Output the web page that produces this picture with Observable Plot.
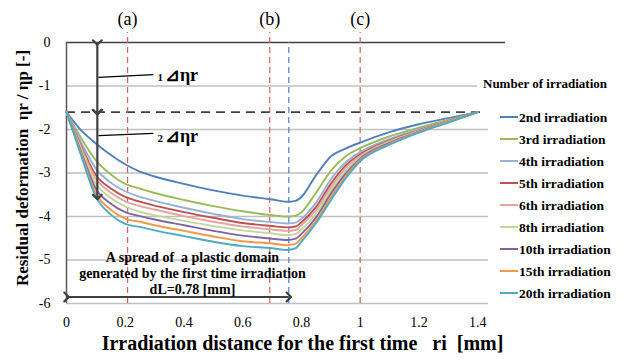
<!DOCTYPE html>
<html><head><meta charset="utf-8">
<script src="https://cdn.jsdelivr.net/npm/d3@7"></script>
<script src="https://cdn.jsdelivr.net/npm/@observablehq/plot@0.6"></script>
<style>body{margin:0;background:#fff} #chart{position:relative;width:623px;height:361px}</style>
</head><body><div id="chart"></div>
<script>
// ---- data ----
const xValues = [0, 0.05, 0.1, 0.15, 0.2, 0.25, 0.3, 0.4, 0.5, 0.6, 0.7, 0.75, 0.78, 0.8, 0.85, 0.9, 0.95, 1.0, 1.1, 1.2, 1.3, 1.4];
const seriesNames = ["2nd irradiation","3rd irradiation","4th irradiation","5th irradiation","6th irradiation","8th irradiation","10th irradiation","15th irradiation","20th irradiation"];
const seriesColors = ["#4f81bd","#9bbb59","#95b3d7","#c0504d","#e6a3a1","#c3d69b","#8064a2","#f79646","#4bacc6"];
const ir2  = [-1.6,-2.02,-2.32,-2.58,-2.80,-2.97,-3.08,-3.25,-3.40,-3.52,-3.61,-3.66,-3.64,-3.55,-3.05,-2.62,-2.44,-2.30,-2.06,-1.88,-1.74,-1.6];
const ir3  = [-1.6,-2.20,-2.71,-3.03,-3.25,-3.36,-3.46,-3.62,-3.76,-3.88,-3.97,-4.00,-3.98,-3.90,-3.45,-2.95,-2.62,-2.43,-2.16,-1.96,-1.78,-1.6];
const ir4  = [-1.6,-2.30,-2.90,-3.22,-3.42,-3.55,-3.64,-3.80,-3.94,-4.06,-4.13,-4.16,-4.14,-4.05,-3.68,-3.15,-2.76,-2.52,-2.22,-2.00,-1.80,-1.6];
const ir5  = [-1.6,-2.38,-3.05,-3.35,-3.55,-3.66,-3.75,-3.90,-4.03,-4.15,-4.22,-4.25,-4.23,-4.13,-3.78,-3.25,-2.83,-2.57,-2.25,-2.02,-1.81,-1.6];
const ir6  = [-1.6,-2.42,-3.13,-3.45,-3.65,-3.76,-3.84,-3.99,-4.12,-4.23,-4.30,-4.33,-4.31,-4.20,-3.85,-3.33,-2.89,-2.61,-2.27,-2.03,-1.82,-1.6];
const ir8  = [-1.6,-2.47,-3.24,-3.57,-3.77,-3.89,-3.97,-4.10,-4.22,-4.32,-4.39,-4.43,-4.40,-4.30,-3.93,-3.40,-2.95,-2.64,-2.29,-2.04,-1.82,-1.6];
const ir10 = [-1.6,-2.52,-3.36,-3.70,-3.90,-3.99,-4.07,-4.20,-4.33,-4.44,-4.51,-4.54,-4.51,-4.40,-4.02,-3.48,-3.02,-2.67,-2.31,-2.05,-1.83,-1.6];
const ir15 = [-1.6,-2.56,-3.47,-3.84,-4.05,-4.12,-4.20,-4.33,-4.46,-4.57,-4.62,-4.66,-4.63,-4.50,-4.10,-3.56,-3.08,-2.70,-2.33,-2.06,-1.83,-1.6];
const ir20 = [-1.6,-2.60,-3.55,-3.95,-4.17,-4.24,-4.32,-4.45,-4.58,-4.68,-4.73,-4.77,-4.73,-4.58,-4.15,-3.63,-3.13,-2.73,-2.35,-2.07,-1.84,-1.6];
const xTicks = [0, 0.2, 0.4, 0.6, 0.8, 1, 1.2, 1.4];
const yTicks = [0, -1, -2, -3, -4, -5, -6];
const markerLabels = ["(a)", "(b)", "(c)"];
const markerX = [0.208, 0.692, 1.0];
const domainEdgeX = 0.757;
const baselineY = -1.6;
const firstArrowX = 0.105;
const arrowBottomY = -3.55;
const spreadLines = ["A spread of \u00a0a plastic domain", "generated by the first time irradiation", "dL=0.78 [mm]"];

// ---- build ----
const seriesValues = [ir2, ir3, ir4, ir5, ir6, ir8, ir10, ir15, ir20];
const rows = seriesNames.flatMap((name, i) => xValues.map((x, j) => ({x, y: seriesValues[i][j], series: name})));
const SERIF = '"Liberation Serif", "Times New Roman", "DejaVu Serif", serif';
const DARK = "#404040";

const plot = Plot.plot({
  width: 623, height: 361,
  marginLeft: 66, marginRight: 135, marginTop: 42, marginBottom: 58,
  style: {fontFamily: SERIF, fontSize: "14px", color: "#000", background: "#fff", overflow: "visible"},
  x: {domain: [0, 1.437]},
  y: {domain: [-6, 0]},
  color: {domain: seriesNames, range: seriesColors},
  marks: [
    Plot.ruleY([-2, -3, -4, -5, -6], {x1: 0, x2: 1.437, stroke: "#bfbfbf", strokeWidth: 1.3}),
    Plot.ruleY([-1], {x1: 0, x2: 1.4, stroke: "#bfbfbf", strokeWidth: 1.3}),
    Plot.ruleY([0], {x1: 0, x2: 1.495, stroke: DARK, strokeWidth: 1.5}),
    Plot.ruleX([0], {y1: -6, y2: 0, stroke: "#595959", strokeWidth: 1.5}),
    Plot.ruleY([baselineY], {x1: 0, x2: 1.427, stroke: DARK, strokeWidth: 1.6, strokeDasharray: "9,6"}),
    Plot.ruleX(markerX, {y1: -6, y2: 0.23, stroke: "#d9605c", strokeWidth: 1.2, strokeDasharray: "6,4"}),
    Plot.ruleX([domainEdgeX], {y1: -6, y2: 0, stroke: "#4a80d6", strokeWidth: 1.2, strokeDasharray: "6,4"}),
    Plot.text(markerLabels, {x: (d, i) => markerX[i], y: 0, dy: -23, text: d => d, fontSize: 18}),
    Plot.line(rows, {x: "x", y: "y", z: "series", stroke: "series", curve: "monotone-x", strokeWidth: 1.9}),
    // arrows
    Plot.link([0], {x1: firstArrowX, x2: firstArrowX, y1: 0, y2: baselineY, stroke: DARK, strokeWidth: 2.2, markerStart: "arrow", markerEnd: "arrow"}),
    Plot.link([0], {x1: firstArrowX, x2: firstArrowX, y1: baselineY, y2: arrowBottomY, stroke: DARK, strokeWidth: 2.2, markerStart: "arrow", markerEnd: "arrow"}),
    Plot.link([0], {x1: 0, x2: domainEdgeX, y1: -5.85, y2: -5.85, stroke: DARK, strokeWidth: 2.2, markerStart: "arrow", markerEnd: "arrow"}),
    Plot.link([0], {x1: 0.109, x2: 0.296, y1: -0.80, y2: -0.74, stroke: "#000", strokeWidth: 1.3}),
    Plot.link([0], {x1: 0.109, x2: 0.296, y1: -2.14, y2: -2.09, stroke: "#000", strokeWidth: 1.3}),
    Plot.text(["1", "2"], {x: 0.31, y: (d, i) => i === 0 ? -0.76 : -2.15, dy: 2, text: d => d, fontSize: 11, fontWeight: "bold", textAnchor: "start"}),
    Plot.text(["\u22bf\u03b7r", "\u22bf\u03b7r"], {x: 0.335, y: (d, i) => i === 0 ? -0.76 : -2.15, text: d => d, fontSize: 18, fontWeight: "bold", textAnchor: "start"}),
    Plot.text(spreadLines, {x: 0.429, y: (d, i) => [-4.94, -5.31, -5.68][i], text: d => d, fontSize: 14, fontWeight: "bold"}),
    // axes
    Plot.axisX({ticks: xTicks, tickSize: 0, tickPadding: 14, label: null, tickFormat: d => String(d), fontSize: 14}),
    Plot.axisY({ticks: yTicks, tickSize: 0, tickPadding: 16, label: null, tickFormat: d => String(d), fontSize: 14}),
    Plot.text(["Irradiation distance for the first time \u00a0\u00a0ri \u00a0[mm]"], {frameAnchor: "bottom", dx: 25, dy: 46, text: d => d, fontSize: 20, fontWeight: "bold", textAnchor: "middle"}),
    Plot.text(["Residual deformation \u00a0\u03b7r / \u03b7p [-]"], {frameAnchor: "left", dx: -44, dy: -5, rotate: -90, text: d => d, fontSize: 17, fontWeight: "bold", textAnchor: "middle"})
  ]
});

// legend (drawn in the same svg)
const svg = d3.select(plot);
const lg = svg.append("g").attr("font-family", SERIF).attr("font-weight", "bold").attr("text-anchor", "start");
lg.append("text").attr("x", 483).attr("y", 83).attr("dy", "0.35em").attr("font-size", 13).text("Number of irradiation");
seriesNames.forEach((name, i) => {
  const y = 117 + i * 22;
  lg.append("line").attr("x1", 500).attr("x2", 518).attr("y1", y).attr("y2", y).attr("stroke", seriesColors[i]).attr("stroke-width", 2);
  lg.append("text").attr("x", 519).attr("y", y).attr("dy", "0.35em").attr("font-size", 13.5).text(name);
});
document.getElementById("chart").appendChild(plot);
</script>
</body></html>
